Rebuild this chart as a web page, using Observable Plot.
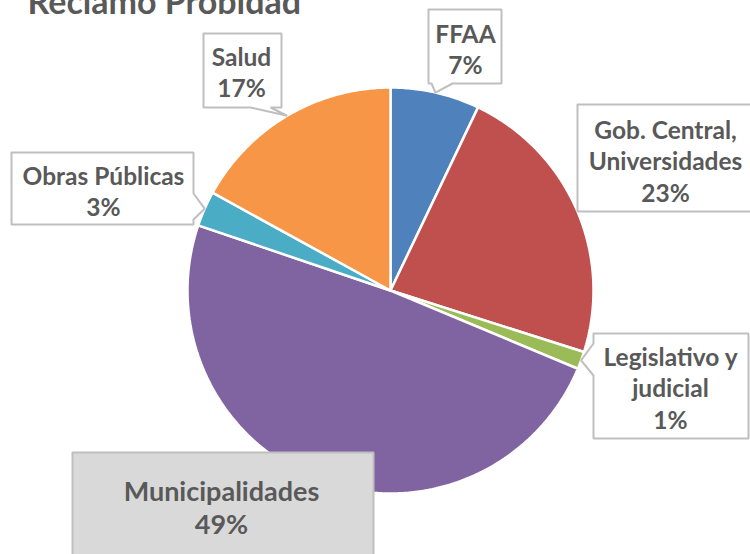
<!DOCTYPE html>
<html><head><meta charset="utf-8">
<script src="https://cdn.jsdelivr.net/npm/d3@7"></script>
<script src="https://cdn.jsdelivr.net/npm/@observablehq/plot@0.6"></script>
<style>html,body{margin:0;padding:0;background:#fff;overflow:hidden} #chart svg{display:block}</style>
</head><body><div id="chart"></div>
<script>
// ---- data ----
const title = "Reclamo Probidad";
const categories = ["FFAA", "Gob. Central, Universidades", "Legislativo y judicial", "Municipalidades", "Obras Públicas", "Salud"];
const values = [7.1, 22.8, 1.4, 48.9, 2.8, 17.0];
const labelLines = [["FFAA"], ["Gob. Central,", "Universidades"], ["Legislativo y", "judicial"], ["Municipalidades"], ["Obras Públicas"], ["Salud"]];
const colors = ["#4F81BD", "#C0504D", "#9BBB59", "#8064A2", "#4BACC6", "#F79646"];

// ---- layout (pixels) ----
const W = 750, H = 554, cx = 390, cy = 290, R = 203;
const layout = [
  {x1: 428, y1: 9,   x2: 501, y2: 83,  side: "bottom", b1: 431, b2: 452, tx: 465, ty: 48,  gray: false},
  {x1: 577, y1: 104, x2: 762, y2: 211, side: null,                        tx: 665, ty: 160, gray: false},
  {x1: 593, y1: 333, x2: 748, y2: 438, side: "left",   b1: 343, b2: 375, tx: 670, ty: 387, gray: false},
  {x1: 72,  y1: 452, x2: 373, y2: 572, side: null,                        tx: 221, ty: 506, gray: true},
  {x1: 11,  y1: 152, x2: 193, y2: 224, side: "right",  b1: 193, b2: 219, tx: 103, ty: 190, gray: false},
  {x1: 203, y1: 33,  x2: 281, y2: 107, side: "bottom", b1: 250, b2: 270, tx: 241, ty: 71,  gray: false}
];
const ux = px => (px - cx) / R;
const uy = py => (cy - py) / R;

// ---- slices ----
const arcs = d3.pie().sort(null).value(d => d)(values);
const slicePts = arcs.flatMap((a, i) => {
  const n = Math.max(4, Math.ceil((a.endAngle - a.startAngle) / 0.01));
  const pts = [{cat: categories[i], x: 0, y: 0}];
  for (let k = 0; k <= n; k++) {
    const t = a.startAngle + (a.endAngle - a.startAngle) * k / n;
    pts.push({cat: categories[i], x: Math.sin(t), y: Math.cos(t)});
  }
  pts.push({cat: categories[i], x: 0, y: 0});
  return pts;
});

// ---- callout boxes ----
const boxPts = layout.flatMap((b, i) => {
  const mid = (arcs[i].startAngle + arcs[i].endAngle) / 2;
  const tip = [Math.sin(mid), Math.cos(mid)];
  const P = (x, y) => [ux(x), uy(y)];
  let pts;
  if (b.side === "bottom") pts = [P(b.x1,b.y1), P(b.x2,b.y1), P(b.x2,b.y2), P(b.b2,b.y2), tip, P(b.b1,b.y2), P(b.x1,b.y2)];
  else if (b.side === "left") pts = [P(b.x1,b.y1), P(b.x2,b.y1), P(b.x2,b.y2), P(b.x1,b.y2), P(b.x1,b.b2), tip, P(b.x1,b.b1)];
  else if (b.side === "right") pts = [P(b.x1,b.y1), P(b.x2,b.y1), P(b.x2,b.b1), tip, P(b.x2,b.b2), P(b.x2,b.y2), P(b.x1,b.y2)];
  else pts = [P(b.x1,b.y1), P(b.x2,b.y1), P(b.x2,b.y2), P(b.x1,b.y2)];
  pts.push(pts[0]);
  return pts.map(p => ({id: categories[i], gray: b.gray, x: p[0], y: p[1]}));
});

const labels = categories.map((c, i) => ({
  cat: c,
  gray: layout[i].gray,
  x: ux(layout[i].tx),
  y: uy(layout[i].ty),
  text: labelLines[i].join("\n") + "\n" + Math.round(values[i]) + "%"
}));

const textStyle = {x: "x", y: "y", text: "text", fill: "#595959", fontWeight: "bold"};

const plot = Plot.plot({
  width: W, height: H, margin: 0,
  x: {domain: [-1, 1], range: [cx - R, cx + R], axis: null},
  y: {domain: [-1, 1], range: [cy + R, cy - R], axis: null},
  color: {domain: categories, range: colors},
  style: {fontFamily: "Lato, 'Open Sans', sans-serif", background: "#fff", overflow: "hidden"},
  marks: [
    Plot.line(slicePts, {x: "x", y: "y", z: "cat", fill: "cat", stroke: "white", strokeWidth: 2.5, strokeLinejoin: "miter"}),
    Plot.line(boxPts.filter(d => !d.gray), {x: "x", y: "y", z: "id", fill: "white", stroke: "#BFBFBF", strokeWidth: 2, strokeLinejoin: "miter"}),
    Plot.line(boxPts.filter(d => d.gray), {x: "x", y: "y", z: "id", fill: "#D9D9D9", stroke: "#BFBFBF", strokeWidth: 2, strokeLinejoin: "miter"}),
    Plot.text(labels.filter(d => !d.gray), {...textStyle, fontSize: 24.5, lineHeight: 1.27}),
    Plot.text(labels.filter(d => d.gray), {...textStyle, fontSize: 27, lineHeight: 1.22}),
    Plot.text([title], {x: ux(27), y: uy(13), text: d => d, textAnchor: "start", lineAnchor: "bottom", fontSize: 34, fontWeight: "bold", fill: "#595959"})
  ]
});
document.getElementById("chart").appendChild(plot);
</script>
</body></html>
